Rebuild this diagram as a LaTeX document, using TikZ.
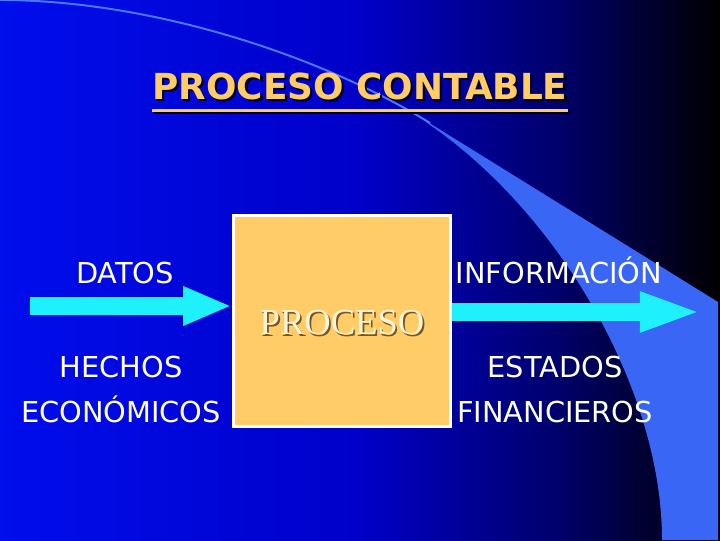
\documentclass[tikz,border=0pt]{standalone}
\usepackage{fontspec}
\newfontfamily\slidesans{DejaVu Sans}
\newfontfamily\slideserif{Liberation Serif}
\usepackage{tikz}
\usetikzlibrary{arrows.meta,calc}

\definecolor{titleorange}{RGB}{255,204,102}
\definecolor{boxorange}{RGB}{255,204,104}
\definecolor{flowcyan}{RGB}{30,240,252}
\definecolor{swoosh}{RGB}{58,102,245}
\definecolor{swooshline}{RGB}{74,120,255}
\definecolor{bgleft}{RGB}{0,14,236}
\definecolor{bgmid}{RGB}{0,0,200}
\definecolor{bgdark}{RGB}{0,0,105}
\definecolor{embossdark}{RGB}{115,85,40}
\definecolor{embosslight}{RGB}{255,244,214}
\pgfdeclarehorizontalshading{slidebg}{100bp}{color(0bp)=(bgleft); color(25bp)=(bgleft); color(50bp)=(bgmid); color(64bp)=(bgdark); color(75bp)=(black); color(100bp)=(black)}

\begin{document}
\begin{tikzpicture}[x=0.025cm, y=-0.025cm,
    titletext/.style={font=\slidesans\bfseries\fontsize{25.5}{30}\selectfont, inner sep=0pt, anchor=base},
    bodytext/.style={text=white, font=\slidesans\fontsize{20.5}{32}\selectfont, align=center, anchor=base},
    procbox/.style={draw=white, fill=boxorange, line width=2.1pt, minimum width=5.43cm, minimum height=5.28cm},
    embosstext/.style={font=\slideserif\fontsize{26}{30}\selectfont, inner sep=0pt},
    flow/.style={flowcyan, line width=0.45cm, -{Triangle[length=#1, width=0.9cm]}}]

  \useasboundingbox (0,0) rectangle (720,540);
  \shade[shading=slidebg] (0,0) rectangle (720,540);
  \fill[swoosh] (418,116) -- (718,302) -- (718,540) -- (662,540)
      .. controls (662,390) and (560,215) .. (430,125) -- cycle;
  \draw[swooshline, line width=1.4pt] (0,0) .. controls (150,0) and (320,55) .. (430,123);

  \node[titletext, text=black] at ([shift={(1.5pt,-1.5pt)}]360,99) {PROCESO CONTABLE};
  \node[titletext, text=titleorange] (title) at (360,99) {PROCESO CONTABLE};
  \draw[black, line width=2.1pt] ([shift={(1.5pt,-9.5pt)}]title.base west) -- ([shift={(1.5pt,-9.5pt)}]title.base east);
  \draw[titleorange, line width=2.1pt] ([yshift=-8pt]title.base west) -- ([yshift=-8pt]title.base east);

  \node[procbox] (proc) at (342,321) {};
  \node[embosstext, text=embossdark] at ([shift={(1.2pt,-2.6pt)}]proc.center) {PROCESO};
  \node[embosstext, text=embosslight] (proctext) at ([yshift=-1.4pt]proc.center) {PROCESO};

  \coordinate (datosin) at (30,306);
  \coordinate (infoout) at (702,312);
  \draw[flow=1.22cm] (datosin) -- (proc.west |- datosin);
  \draw[flow=1.55cm] (proc.east |- infoout) -- (infoout);

  \node[bodytext] (datos) at (125,283) {DATOS};
  \node[bodytext] (hechos) at (121,422) {HECHOS\\ECONÓMICOS};
  \node[bodytext] (info) at (559,283) {INFORMACIÓN};
  \node[bodytext] (estados) at (555,422) {ESTADOS\\FINANCIEROS};
\end{tikzpicture}
\end{document}
